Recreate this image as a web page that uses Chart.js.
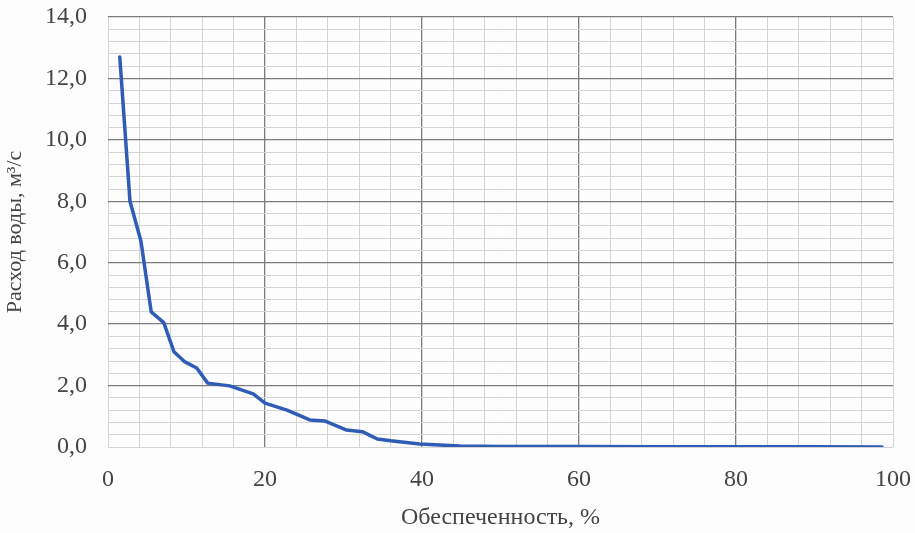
<!DOCTYPE html>
<html>
<head>
<meta charset="utf-8">
<script src="https://cdn.jsdelivr.net/npm/chart.js@4/dist/chart.umd.min.js"></script>
<style>
  body { margin: 0; background: #fdfdfd; }
  canvas { display: block; }
</style>
</head>
<body>
<canvas id="chart" width="915" height="533"></canvas>
<script>
// обеспеченность, % и расход воды, м3/с
var obespech = [1.5, 2.8, 4.2, 5.5, 7.1, 8.4, 9.8, 11.3, 12.7, 15.5, 18.5, 20, 22.8, 25.7, 27.6, 30.4, 32.4, 34.3, 36, 39.7, 44.8, 50, 60, 70, 80, 90, 98.6];
var rashod = [12.7, 8.0, 6.7, 4.4, 4.05, 3.1, 2.77, 2.57, 2.08, 1.99, 1.73, 1.43, 1.2, 0.88, 0.85, 0.55, 0.5, 0.26, 0.2, 0.1, 0.03, 0.02, 0.02, 0.01, 0.01, 0.005, 0];

var xTitle = 'Обеспеченность, %';
var yTitle = 'Расход воды, м³/с';

var fontFamily = '"Liberation Serif", "Times New Roman", serif';
var textColor = '#444';
var majorColor = '#7c7c7c';
var minorColor = '#d4d4d4';

function isMult(v, step) {
    return Math.abs(v / step - Math.round(v / step)) < 1e-6;
}

function noLabelPadding(scale) {
    scale.paddingTop = 0;
    scale.paddingBottom = 0;
    scale.paddingLeft = 0;
    scale.paddingRight = 0;
}

var points = obespech.map(function(x, i){ return {x: x, y: rashod[i]}; });

new Chart(document.getElementById('chart'), {
    type: 'line',
    data: {
        datasets: [{
            data: points,
            borderColor: '#2f5cb5',
            borderWidth: 3.5,
            pointRadius: 0,
            fill: false,
            tension: 0,
            borderJoinStyle: 'round',
            borderCapStyle: 'round'
        }]
    },
    options: {
        responsive: false,
        animation: false,
        layout: { padding: { top: 17, right: 22, left: 0, bottom: 0 } },
        plugins: { legend: { display: false }, tooltip: { enabled: false } },
        scales: {
            x: {
                type: 'linear',
                min: 0,
                max: 100,
                afterFit: function(scale){ scale.height = 86; noLabelPadding(scale); },
                border: { display: false },
                grid: {
                    drawTicks: false,
                    lineWidth: function(ctx){
                        var v = ctx.tick.value;
                        return (v > 0 && v < 100 && isMult(v, 20)) ? 1.3 : 1;
                    },
                    color: function(ctx){
                        var v = ctx.tick.value;
                        return (v > 0 && v < 100 && isMult(v, 20)) ? majorColor : minorColor;
                    }
                },
                ticks: {
                    stepSize: 4,
                    autoSkip: false,
                    maxRotation: 0,
                    padding: 18,
                    color: textColor,
                    font: { family: fontFamily, size: 24 },
                    callback: function(v){ return isMult(v, 20) ? String(v) : ''; }
                },
                title: {
                    display: true,
                    text: xTitle,
                    color: textColor,
                    padding: { top: 0, bottom: 1 },
                    font: { family: fontFamily, size: 24 }
                }
            },
            y: {
                type: 'linear',
                min: 0,
                max: 14,
                afterFit: function(scale){ scale.width = 108; noLabelPadding(scale); },
                border: { display: false },
                grid: {
                    drawTicks: false,
                    lineWidth: function(ctx){
                        var v = ctx.tick.value;
                        return (v > 0 && isMult(v, 2)) ? 1.3 : 1;
                    },
                    color: function(ctx){
                        var v = ctx.tick.value;
                        return (v > 0 && isMult(v, 2)) ? majorColor : minorColor;
                    }
                },
                ticks: {
                    stepSize: 0.4,
                    autoSkip: false,
                    padding: 21,
                    color: textColor,
                    font: { family: fontFamily, size: 24 },
                    callback: function(v){ return isMult(v, 2) ? v.toFixed(1).replace('.', ',') : ''; }
                },
                title: {
                    display: true,
                    text: yTitle,
                    color: textColor,
                    padding: { top: 2, bottom: 0 },
                    font: { family: fontFamily, size: 22 }
                }
            }
        }
    }
});
</script>
</body>
</html>
